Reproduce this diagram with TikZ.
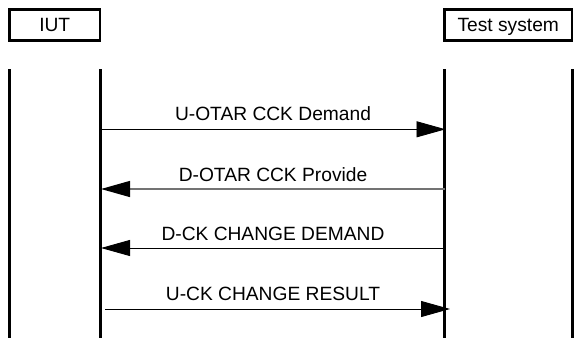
\documentclass[tikz,border=0pt]{standalone}
\usepackage{fontspec}
\setmainfont{Liberation Sans}
\usetikzlibrary{arrows.meta}
\begin{document}
\begin{tikzpicture}[x=1pt,y=-1pt,
  every node/.style={font=\fontsize{19.2}{23}\selectfont},
  entity/.style={draw,line width=2.5pt,inner sep=0pt,minimum height=31pt,
                 text height=13.7pt,text depth=0pt},
  lifeline/.style={line width=3pt},
  msg/.style={line width=0.9pt,-{Triangle[length=29pt,width=16pt,color=black]}},
  msglabel/.style={anchor=base,inner sep=0pt}]
\useasboundingbox (0,0) rectangle (575,338);

% entity headers
\node[entity,minimum width=90.5pt] (iut) at (54.75,25) {IUT};
\node[entity,minimum width=127.5pt] (ts) at (508.25,25) {Test system};

% lifelines (two edges per entity column)
\coordinate (iutLtop) at (9.5,69);   \coordinate (iutLbot) at (9.5,338);
\coordinate (iutRtop) at (100,69);   \coordinate (iutRbot) at (100,338);
\coordinate (tsLtop)  at (444.5,69); \coordinate (tsLbot)  at (444.5,338);
\coordinate (tsRtop)  at (572,69);   \coordinate (tsRbot)  at (572,338);
\draw[lifeline] (iutLtop) -- (iutLbot);
\draw[lifeline] (iutRtop) -- (iutRbot);
\draw[lifeline] (tsLtop) -- (tsLbot);
\draw[lifeline] (tsRtop) -- (tsRbot);

% message end points
\coordinate (m1s) at (100,129.3);  \coordinate (m1e) at (445.5,129.3);
\coordinate (m2s) at (444.5,189);  \coordinate (m2e) at (101,189);
\coordinate (m3s) at (444.5,248);  \coordinate (m3e) at (101,248);
\coordinate (m4s) at (105,309);    \coordinate (m4e) at (450,309);

% messages
\draw[msg] (m1s) -- (m1e);
\node[msglabel] (l1) at (273,120.5) {U-OTAR CCK Demand};
\draw[msg,draw=black!55,line width=1.3pt] (m2s) -- (m2e);
\node[msglabel] (l2) at (273,181.5) {D-OTAR CCK Provide};
\draw[msg] (m3s) -- (m3e);
\node[msglabel] (l3) at (273,240.5) {D-CK CHANGE DEMAND};
\draw[msg] (m4s) -- (m4e);
\node[msglabel] (l4) at (273,300.7) {U-CK CHANGE RESULT};
\end{tikzpicture}
\end{document}
